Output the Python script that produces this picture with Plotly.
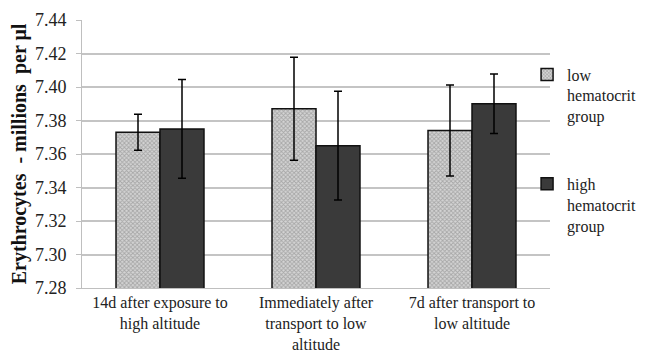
import plotly.graph_objects as go

categories = ["14d after exposure to<br>high altitude",
              "Immediately after<br>transport to low<br>altitude",
              "7d after transport to<br>low altitude"]
low_vals = [7.373, 7.387, 7.374]
low_err = [0.0107, 0.0307, 0.0272]
high_vals = [7.375, 7.365, 7.390]
high_err = [0.0295, 0.0325, 0.0177]
series_names = ["low<br>hematocrit<br>group", "high<br>hematocrit<br>group"]

font_family = "Liberation Serif"

fig = go.Figure()
fig.add_trace(go.Bar(
    x=categories, y=low_vals, name=series_names[0], legendgroup="a",
    marker=dict(color="#c0c0c0",
                line=dict(color="#111111", width=1.5),
                pattern=dict(shape="x", fgcolor="#7a7a7a", bgcolor="#d4d4d4",
                             size=3, solidity=0.5)),
    error_y=dict(type="data", array=low_err, color="black", thickness=1.5, width=4),
))
fig.add_trace(go.Bar(
    x=categories, y=high_vals, name=series_names[1], legendgroup="b",
    marker=dict(color="#3a3a3a", line=dict(color="#111111", width=1.5)),
    error_y=dict(type="data", array=high_err, color="black", thickness=1.5, width=4),
))

fig.update_layout(
    width=637, height=343,
    margin=dict(l=74, r=95, t=12, b=63, autoexpand=False),
    paper_bgcolor="white", plot_bgcolor="white",
    barmode="group", bargap=0.436, bargroupgap=0,
    font=dict(family=font_family, size=16, color="#222222"),
    showlegend=True,
    legend=dict(x=0.951, y=0.86, xanchor="left", yanchor="top",
                font=dict(family=font_family, size=16, color="#222222"),
                tracegroupgap=44, valign="top", itemwidth=30,
                bgcolor="rgba(0,0,0,0)"),
)
fig.update_xaxes(showline=True, linecolor="#bfbfbf", linewidth=1,
                 tickfont=dict(family=font_family, size=16, color="#222222"),
                 ticks="")
fig.update_yaxes(range=[7.28, 7.44], dtick=0.02, tickformat=".2f",
                 showgrid=True, gridcolor="#c4c4c4", gridwidth=1.5,
                 showline=True, linecolor="#bfbfbf", linewidth=1,
                 ticks="outside", ticklen=5, tickcolor="#bfbfbf",
                 zeroline=False, ticklabelstandoff=6,
                 tickfont=dict(family=font_family, size=18, color="#222222"),
                 title=dict(text="<b>Erythrocytes  - millions  per μl</b>",
                            font=dict(family=font_family, size=20, color="#111111"),
                            standoff=4))

fig.write_html("out.html")
